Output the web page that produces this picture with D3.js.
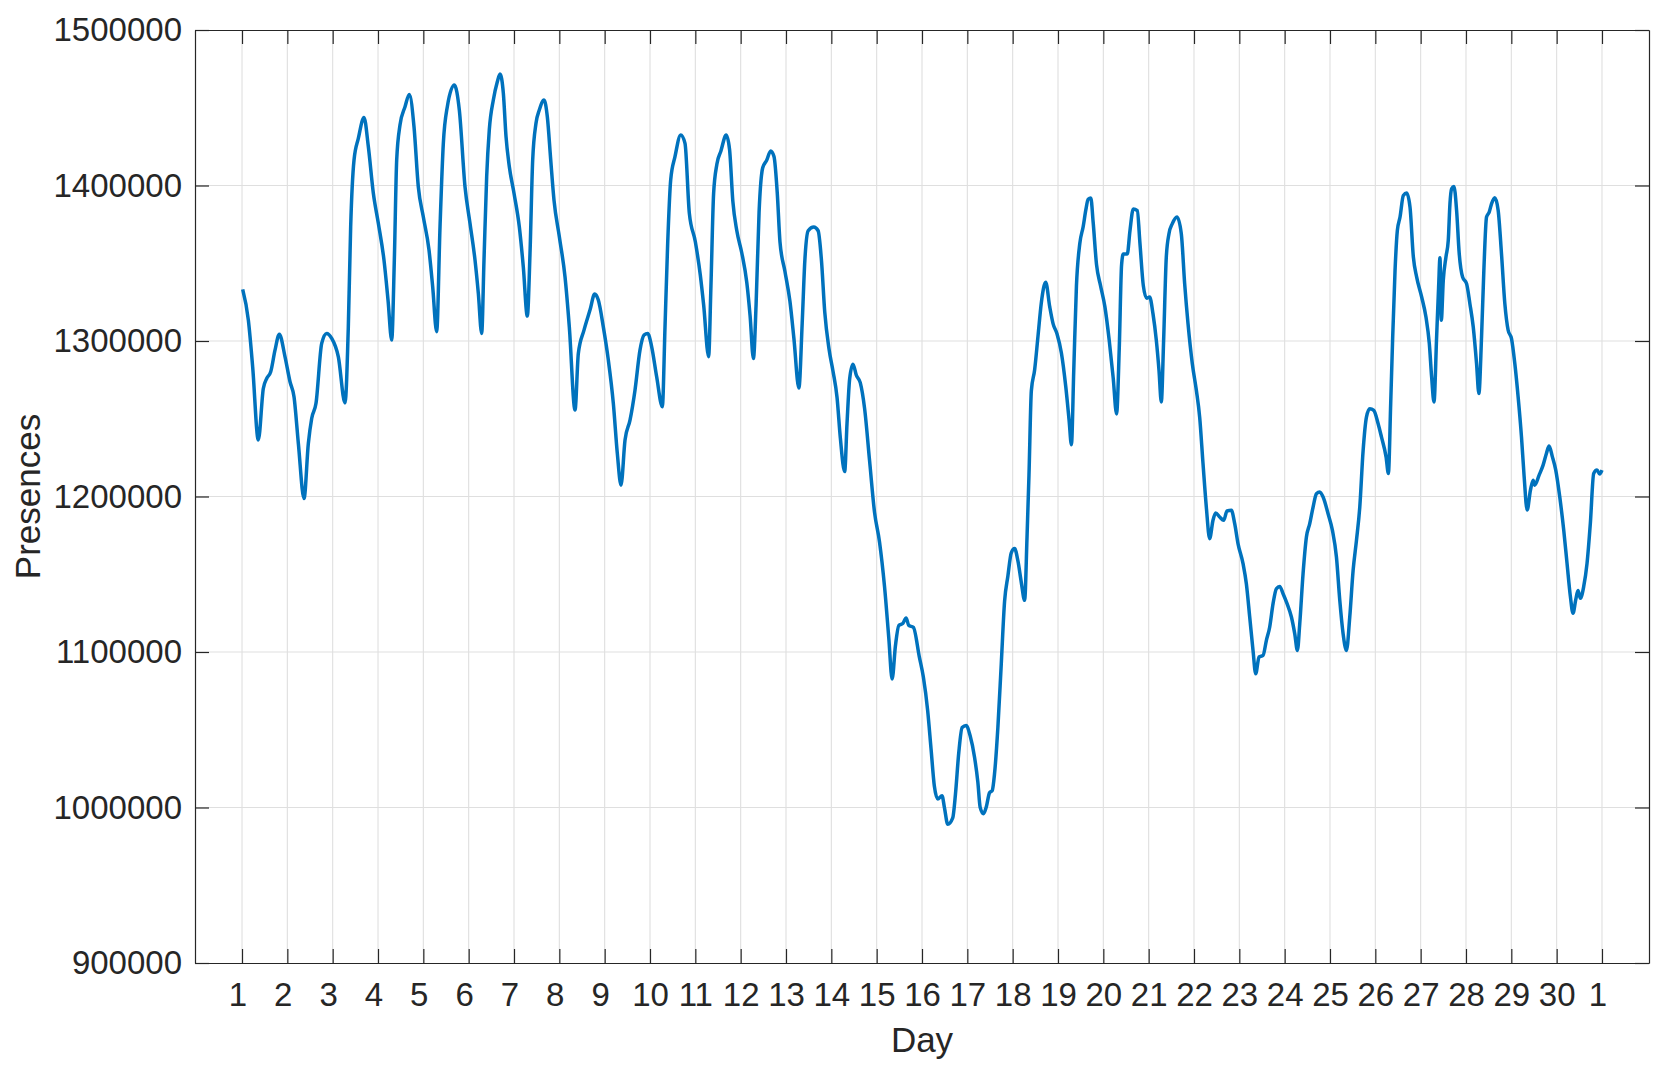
<!DOCTYPE html>
<html>
<head>
<meta charset="utf-8">
<script src="https://cdn.jsdelivr.net/npm/d3@7/dist/d3.min.js"></script>
<style>
body { margin: 0; background: #fff; }
text { font-family: "Liberation Sans", Arial, Helvetica, sans-serif; fill: #262626; }
</style>
</head>
<body>
<div id="main_graphs"></div>
<script>

// tick positions (days since start of month) and their labels
var dayTicks = d3.range(0, 31)
var dayLabels = ["1 ","2 ","3 ","4 ","5 ","6 ","7 ","8 ","9 ","10","11","12","13","14","15",
                 "16","17","18","19","20","21","22","23","24","25","26","27","28","29","30","1 "]
var yTicks = [900000, 1000000, 1100000, 1200000, 1300000, 1400000, 1500000]

// time in days, presences
var days = [
 0.015,0.14,0.235,0.36,0.47,0.545,0.633,0.728,0.823,0.949,1.059,1.147,1.243,1.368,1.463,1.537,1.632,1.758,1.868,1.978,
 2.125,2.272,2.345,2.397,2.471,2.566,2.691,2.787,2.897,3.007,3.132,3.221,3.302,3.36,3.412,3.485,3.596,3.691,3.794,3.889,
 3.999,4.125,4.206,4.294,4.368,4.441,4.529,4.684,4.794,4.919,5.029,5.14,5.213,5.287,5.338,5.397,5.455,5.544,5.632,5.691,
 5.765,5.824,5.897,6.0,6.117,6.205,6.294,6.353,6.412,6.485,6.558,6.662,6.735,6.81,6.882,7.0,7.125,7.22,7.346,7.419,
 7.544,7.676,7.78,7.86,7.97,8.081,8.191,8.279,8.36,8.449,8.559,8.669,8.779,8.868,8.949,9.037,9.147,9.272,9.331,9.39,
 9.456,9.551,9.677,9.772,9.868,10.0,10.11,10.183,10.293,10.344,10.403,10.476,10.564,10.681,10.754,10.827,10.915,11.025,11.135,11.208,
 11.281,11.34,11.406,11.486,11.574,11.662,11.735,11.808,11.867,11.977,12.086,12.174,12.284,12.357,12.416,12.489,12.613,12.709,12.782,12.855,
 12.95,13.038,13.126,13.199,13.294,13.346,13.404,13.477,13.551,13.638,13.734,13.843,13.953,14.063,14.173,14.268,14.341,14.414,14.488,14.575,
 14.649,14.707,14.81,14.941,15.03,15.125,15.199,15.273,15.347,15.442,15.494,15.568,15.678,15.737,15.811,15.885,15.973,16.062,16.158,16.232,
 16.283,16.357,16.416,16.49,16.549,16.6,16.674,16.748,16.822,16.895,16.969,17.043,17.117,17.19,17.264,17.316,17.36,17.412,17.485,17.559,
 17.633,17.729,17.817,17.891,17.979,18.075,18.171,18.245,18.296,18.348,18.407,18.481,18.555,18.614,18.665,18.724,18.776,18.85,18.938,19.034,
 19.13,19.218,19.292,19.351,19.403,19.44,19.528,19.587,19.661,19.749,19.808,19.882,19.956,20.021,20.095,20.169,20.228,20.279,20.33,20.389,
 20.448,20.522,20.625,20.72,20.794,20.868,20.963,21.052,21.125,21.199,21.272,21.346,21.419,21.478,21.567,21.655,21.728,21.824,21.898,21.971,
 22.082,22.155,22.229,22.302,22.361,22.435,22.523,22.597,22.67,22.744,22.817,22.891,22.965,23.053,23.149,23.222,23.281,23.333,23.406,23.48,
 23.553,23.627,23.701,23.774,23.848,23.958,24.054,24.142,24.216,24.289,24.363,24.436,24.51,24.584,24.657,24.731,24.804,24.878,24.966,25.062,
 25.135,25.237,25.288,25.339,25.383,25.435,25.486,25.545,25.618,25.692,25.765,25.839,25.912,26.022,26.117,26.191,26.242,26.294,26.352,26.396,
 26.426,26.455,26.499,26.558,26.609,26.646,26.683,26.734,26.793,26.851,26.925,27.013,27.086,27.16,27.233,27.284,27.343,27.394,27.453,27.512,
 27.563,27.637,27.71,27.783,27.857,27.93,28.004,28.077,28.15,28.224,28.283,28.349,28.422,28.481,28.517,28.613,28.701,28.774,28.833,28.906,
 28.98,29.068,29.156,29.229,29.303,29.361,29.42,29.471,29.523,29.596,29.67,29.743,29.817,29.89,29.949,30.0
]
var presences = [
 1333200,1313400,1283400,1236300,1269500,1275900,1280200,1294100,1304400,1289800,1273800,1264100,1234100,1198700,1234100,1250200,1259900,1298500,1304900,1301700,
 1289800,1260200,1309100,1373500,1416400,1430300,1443800,1424900,1395000,1375700,1352000,1326300,1300600,1352000,1416400,1438900,1450700,1458600,1437800,1399200,
 1379900,1358500,1334900,1305900,1373500,1427100,1450700,1464600,1448500,1399200,1375700,1352000,1330600,1304900,1352000,1405600,1435700,1455000,1466700,1471700,
 1459300,1431400,1412100,1395000,1373500,1347700,1316000,1356400,1416400,1440000,1448500,1455000,1444200,1416400,1390600,1367000,1341300,1309100,1255600,1292000,
 1307000,1319900,1330200,1326300,1309100,1287700,1259900,1227700,1207300,1236300,1249100,1268400,1294100,1303800,1304900,1296300,1277000,1257700,1309100,1362800,
 1403500,1418500,1432500,1427100,1382100,1363800,1342300,1323300,1289900,1335200,1394800,1413800,1422200,1432400,1423400,1390000,1370900,1356600,1337600,1316100,
 1288700,1323300,1382800,1411400,1416200,1422200,1418600,1394800,1363800,1344700,1325700,1301800,1269700,1311400,1351900,1370900,1373300,1370900,1351900,1318500,
 1294700,1280400,1263700,1237500,1216000,1247000,1275600,1285100,1278000,1273200,1256500,1223200,1189800,1170800,1142200,1108800,1082600,1104000,1117100,1118300,
 1121900,1117100,1115900,1096900,1083900,1062300,1037900,1013600,1005500,1007600,1000100,989200,993300,1008200,1035200,1051500,1052800,1046100,1032500,1016300,
 1000100,996000,1000100,1009500,1010900,1021700,1051500,1092100,1132700,1148900,1163800,1166500,1158400,1144800,1133200,1173200,1213800,1268000,1281500,1303100,
 1324800,1337800,1322100,1311200,1304500,1292300,1270700,1249000,1233300,1281500,1335600,1362700,1373500,1384300,1391100,1391900,1376200,1349100,1335600,1322100,
 1300400,1276100,1253100,1295000,1349100,1355900,1355900,1370800,1384900,1383800,1362700,1335600,1327500,1328300,1317600,1300400,1281100,1260800,1300400,1354000,
 1369000,1375500,1379800,1369000,1336900,1311200,1285400,1268300,1251100,1221100,1193200,1172900,1184700,1189400,1186800,1184700,1190700,1191100,1182500,1169700,
 1156800,1143900,1122500,1101000,1086000,1096800,1097800,1107500,1116100,1131100,1140700,1142200,1137500,1131100,1122500,1111800,1101000,1118200,1150400,1173900,
 1182500,1193200,1201800,1202900,1199700,1188900,1178200,1161100,1133200,1111800,1101000,1122500,1152500,1171800,1193200,1229700,1251100,1256500,1255400,1246800,
 1238300,1225500,1214800,1259800,1302600,1345400,1371100,1379700,1393600,1395100,1386100,1354000,1341100,1328300,1315400,1298300,1276900,1260800,1302600,1334700,
 1353500,1313300,1339000,1354000,1364700,1388200,1397900,1399400,1383900,1356100,1341100,1336800,1324000,1309000,1285500,1266200,1302600,1345400,1379700,1382900,
 1388200,1392100,1383900,1356100,1324000,1306900,1301500,1285500,1264100,1238400,1212700,1191300,1204100,1210500,1207300,1213700,1220200,1227700,1232400,1225500,
 1217000,1199800,1178400,1157000,1135600,1124900,1133500,1139500,1134500,1142000,1157000,1182700,1214800,1217000,1214400,1217000
]

function drawPresences(){

    var totalW = 1664
    var totalH = 1068
    var margin = {top: 30, right: 15, bottom: 105, left: 195}
    var width = totalW - margin.left - margin.right
    var height = totalH - margin.top - margin.bottom
    var tickLen = 14

    var svg = d3.select("#main_graphs")
    .append("svg")
    .attr("width", totalW)
    .attr("height", totalH)
    .append("g")
    .attr("transform","translate(" + margin.left + "," + margin.top + ")");

    var x = d3.scaleLinear()
    .domain([-1.037, 31.037])
    .range([0, width]);

    var y = d3.scaleLinear()
    .domain([900000, 1500000])
    .range([height, 0]);

    // grid
    svg.append("g").selectAll("line")
    .data(dayTicks)
    .enter()
    .append("line")
    .attr("x1", function(d){ return x(d) }).attr("x2", function(d){ return x(d) })
    .attr("y1", 0).attr("y2", height)
    .style("stroke", "#dfdfdf").style("stroke-width", 1.1)

    svg.append("g").selectAll("line")
    .data(yTicks.slice(1, -1))
    .enter()
    .append("line")
    .attr("x1", 0).attr("x2", width)
    .attr("y1", function(d){ return y(d) }).attr("y2", function(d){ return y(d) })
    .style("stroke", "#dfdfdf").style("stroke-width", 1.1)

    // data line
    var line = d3.line()
    .x(function(d, i){ return x(days[i]) })
    .y(function(d){ return y(d) })
    .curve(d3.curveMonotoneX)

    svg.append("path")
    .datum(presences)
    .attr("d", line)
    .style("fill", "none")
    .style("stroke", "#0072bd")
    .style("stroke-width", 3.5)
    .style("stroke-linejoin", "round")

    // axes (inward ticks on all four sides)
    var xAxis = d3.axisBottom(x)
    .tickValues(dayTicks)
    .tickFormat(function(d, i){ return dayLabels[i] })
    .tickSizeInner(-tickLen).tickSizeOuter(0).tickPadding(20)

    var gx = svg.append("g")
    .attr("transform", "translate(0," + height + ")")
    .call(xAxis)
    gx.selectAll("text")
    .attr("xml:space", "preserve")
    .style("white-space", "pre")

    svg.append("g")
    .call(d3.axisTop(x).tickValues(dayTicks).tickFormat("").tickSizeInner(-tickLen).tickSizeOuter(0))

    svg.append("g")
    .call(d3.axisLeft(y).tickValues(yTicks).tickFormat(d3.format("d")).tickSizeInner(-tickLen).tickSizeOuter(0).tickPadding(13))

    svg.append("g")
    .attr("transform", "translate(" + width + ",0)")
    .call(d3.axisRight(y).tickValues(yTicks).tickFormat("").tickSizeInner(-tickLen).tickSizeOuter(0))

    svg.selectAll(".domain, .tick line")
    .style("stroke", "#262626")
    .style("stroke-width", 1.2)

    svg.selectAll(".tick text")
    .style("font-size", "33px")
    .style("font-family", "'Liberation Sans', Arial, Helvetica, sans-serif")
    .style("fill", "#262626")

    // axis titles
    svg.append("text")
    .attr("x", width / 2)
    .attr("y", height + 89)
    .style("text-anchor", "middle")
    .style("font-size", "35px")
    .text("Day");

    svg.append("text")
    .attr("transform", "rotate(-90)")
    .attr("x", 0 - (height / 2))
    .attr("y", 40 - margin.left)
    .style("text-anchor", "middle")
    .style("font-size", "35px")
    .text("Presences");
}

drawPresences()
</script>
</body>
</html>
